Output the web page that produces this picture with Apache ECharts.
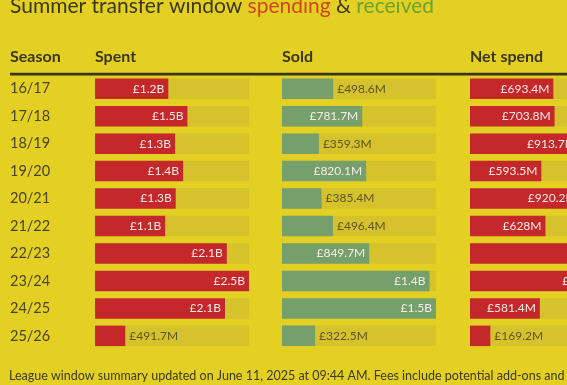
<!DOCTYPE html>
<html>
<head>
<meta charset="utf-8">
<script src="https://cdn.jsdelivr.net/npm/echarts@6/dist/echarts.min.js"></script>
<style>
html,body{margin:0;padding:0;background:#e3d023;}
#c{width:567px;height:385px;}
</style>
</head>
<body>
<div id="c"></div>
<script>
// ---- data (values in £ millions) ----
const seasons = ['16/17','17/18','18/19','19/20','20/21','21/22','22/23','23/24','24/25','25/26'];
const spent   = [1190, 1500, 1300, 1430, 1310, 1140, 2140, 2500, 2110, 491.7];
const sold    = [498.6, 781.7, 359.3, 820.1, 385.4, 496.4, 849.7, 1437, 1500, 322.5];
const netSpend = [693.4, 703.8, 913.7, 593.5, 920.2, 628, 1290, 1063, 581.4, 169.2];
const columnTitles = ['Season', 'Spent', 'Sold', 'Net spend'];

// ---- styling ----
const FONT = 'Lato, sans-serif';
const BG = '#e3d023', TRACK = '#d5c22c', RED = '#c4282b', GREEN = '#76a06b';
const DARK = '#3b3616', OLIVE = '#5c5524';

function fmt(v) {
  if (v >= 1000) return '£' + (v / 1000).toFixed(1) + 'B';
  return '£' + (Math.round(v * 10) / 10) + 'M';
}

const gridTop = 75, band = 27.46, nRows = seasons.length;
const cols = [
  { left: 95,  width: 154, max: Math.max(...spent),    values: spent,    color: RED },
  { left: 282, width: 154, max: Math.max(...sold),     values: sold,     color: GREEN },
  { left: 470, width: 155, max: Math.max(...netSpend), values: netSpend, color: RED }
];

const grids = [], xAxes = [], yAxes = [], series = [];
cols.forEach((c, i) => {
  grids.push({ left: c.left, width: c.width, top: gridTop, height: band * nRows,
               containLabel: false, outerBoundsMode: 'none' });
  xAxes.push({ type: 'value', gridIndex: i, min: 0, max: c.max, show: false });
  yAxes.push({
    type: 'category', gridIndex: i, data: seasons, inverse: true,
    axisLine: { show: false }, axisTick: { show: false }, splitLine: { show: false },
    axisLabel: i === 0 ? { show: true, align: 'left', margin: 85, fontFamily: FONT, fontSize: 14.5, color: '#4a4420' } : { show: false }
  });
  series.push({
    type: 'bar', xAxisIndex: i, yAxisIndex: i, barWidth: 20.5,
    showBackground: true, backgroundStyle: { color: TRACK },
    itemStyle: { color: c.color },
    silent: true, animation: false, clip: false,
    data: c.values.map(v => {
      const inside = v / c.max > 0.4;
      return {
        value: v,
        label: {
          show: true, formatter: fmt(v), fontFamily: FONT, fontSize: 12,
          position: inside ? 'insideRight' : 'right',
          distance: 4,
          color: inside ? '#f6ece6' : OLIVE
        }
      };
    })
  });
});

const headerX = [10, 95, 282, 470];
const graphic = [
  {
    type: 'text', x: 10, y: 6,
    style: {
      text: '{a|Summer transfer window }{b|spending}{a| & }{c|received}',
      verticalAlign: 'middle',
      rich: {
        a: { fontFamily: FONT, fontSize: 21, fontWeight: 'normal', fill: DARK, color: DARK },
        b: { fontFamily: FONT, fontSize: 21, fontWeight: 'normal', fill: '#d2461e', color: '#d2461e' },
        c: { fontFamily: FONT, fontSize: 21, fontWeight: 'normal', fill: '#6aa331', color: '#6aa331' }
      }
    }
  },
  { type: 'rect', shape: { x: 10, y: 72.8, width: 567, height: 2.6 }, style: { fill: '#3a3515' } },
  {
    type: 'text', x: 9, y: 376,
    style: {
      text: 'League window summary updated on June 11, 2025 at 09:44 AM. Fees include potential add-ons and exclude loan fees.',
      verticalAlign: 'middle', fontFamily: FONT, fontSize: 12.5, fill: '#3e3a1c'
    }
  }
];
columnTitles.forEach((t, i) => {
  graphic.push({
    type: 'text', x: headerX[i], y: 57,
    style: { text: t, verticalAlign: 'middle', fontFamily: FONT, fontSize: 16, fontWeight: 'bold', fill: DARK }
  });
});

const chart = echarts.init(document.getElementById('c'), null, { renderer: 'canvas' });
chart.setOption({
  backgroundColor: BG,
  animation: false,
  grid: grids, xAxis: xAxes, yAxis: yAxes, series: series,
  graphic: graphic
});
</script>
</body>
</html>
